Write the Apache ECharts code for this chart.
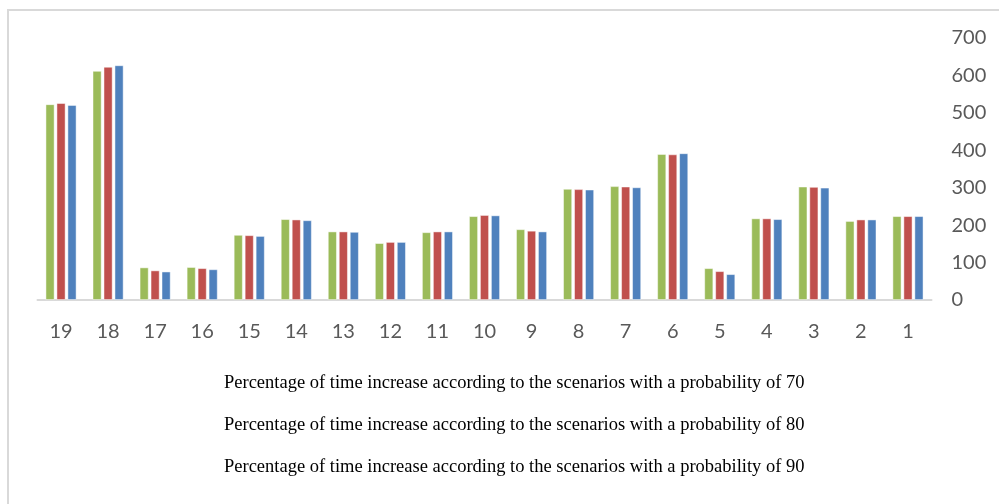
<!DOCTYPE html>
<html><head><meta charset="utf-8">
<script src="https://cdn.jsdelivr.net/npm/echarts@6/dist/echarts.min.js"></script>
<style>
html,body{margin:0;padding:0;background:#fff;}
#frame{position:absolute;left:7px;top:9px;width:1000px;height:500px;border-left:2px solid #d9d9d9;border-top:2px solid #d9d9d9;}
#c{position:absolute;left:0;top:0;width:999px;height:504px;}
</style></head>
<body>
<div id="frame"></div>
<div id="c"></div>
<script>
const categories = ['19','18','17','16','15','14','13','12','11','10','9','8','7','6','5','4','3','2','1'];
const seriesNames = [
  'Percentage of time increase according to the scenarios with a probability of 70',
  'Percentage of time increase according to the scenarios with a probability of 80',
  'Percentage of time increase according to the scenarios with a probability of 90'
];
const p70 = [523, 612, 87, 88, 174, 216, 183, 152, 181, 224, 189, 297, 304, 390, 85, 218, 303, 211, 224];
const p80 = [526, 623, 79, 85, 173, 215, 183, 155, 183, 227, 185, 296, 303, 389, 77, 218, 302, 215, 224];
const p90 = [521, 627, 76, 82, 171, 213, 182, 155, 183, 226, 183, 295, 301, 392, 69, 216, 300, 215, 224];
const yTicks = [0, 100, 200, 300, 400, 500, 600, 700];
const colors = ['#9BBB59', '#C0504D', '#4F81BD'];

const chart = echarts.init(document.getElementById('c'), null, {renderer: 'canvas'});
const values = [p70, p80, p90];
chart.setOption({
  animation: false,
  backgroundColor: 'transparent',
  grid: {left: 37.5, right: 67.5, top: 38, bottom: 204},
  legend: {
    data: seriesNames,
    orient: 'vertical',
    left: 213,
    top: 369,
    itemGap: 23,
    itemWidth: 0,
    itemHeight: 0,
    icon: 'rect',
    textStyle: {fontFamily: 'Liberation Serif', fontSize: 18.5, color: '#000'}
  },
  xAxis: {
    type: 'category',
    data: categories,
    axisLine: {lineStyle: {color: '#d9d9d9', width: 2}},
    axisTick: {show: false},
    axisLabel: {fontFamily: 'Lato', fontSize: 20, color: '#595959', margin: 22}
  },
  yAxis: {
    type: 'value',
    position: 'right',
    min: yTicks[0],
    max: yTicks[yTicks.length - 1],
    interval: 100,
    splitLine: {show: false},
    axisLine: {show: false},
    axisTick: {show: false},
    axisLabel: {fontFamily: 'Lato', fontSize: 20, color: '#595959', margin: 20}
  },
  series: seriesNames.map((n, i) => ({
    name: n,
    type: 'bar',
    data: values[i],
    barWidth: 9,
    barGap: '22%',
    itemStyle: {color: colors[i], borderColor: 'rgba(255,255,255,0.6)', borderWidth: 0.8}
  }))
});
</script>
</body></html>
